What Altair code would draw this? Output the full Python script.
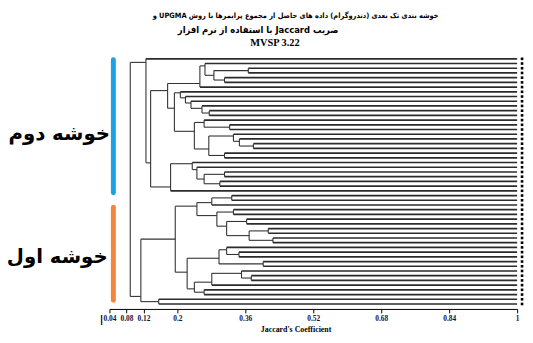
import altair as alt
import pandas as pd

# ---------------- data ----------------
n_leaves = 53
# merges: ids < 53 are leaves (top-to-bottom order), id 53+k is merge k
merge_left = [2, 4, 53, 1, 56, 11, 10, 9, 8, 7,
              14, 13, 18, 17, 16, 20, 67, 64, 62, 57,
              24, 26, 73, 23, 22, 77, 72, 0,
              29, 81, 32, 34, 36, 38, 85, 84, 83, 82,
              41, 40, 43, 92, 46, 45, 96, 49, 97, 94, 90, 51, 101, 80]
merge_right = [3, 5, 54, 55, 6, 12, 58, 59, 60, 61,
               15, 63, 19, 65, 66, 21, 68, 69, 70, 71,
               25, 27, 74, 75, 76, 28, 78, 79,
               30, 31, 33, 35, 37, 39, 86, 87, 88, 89,
               42, 91, 44, 93, 47, 95, 48, 50, 98, 99, 100, 52, 102, 103]
merge_height = [0.367, 0.311, 0.286, 0.265, 0.253, 0.275, 0.258, 0.232, 0.219, 0.207,
                0.323, 0.263, 0.379, 0.346, 0.332, 0.311, 0.274, 0.240, 0.193, 0.177,
                0.311, 0.300, 0.263, 0.246, 0.235, 0.184, 0.137, 0.126,
                0.328, 0.281, 0.332, 0.363, 0.414, 0.425, 0.369, 0.316, 0.293, 0.246,
                0.345, 0.316, 0.402, 0.298, 0.374, 0.351, 0.281, 0.263, 0.240, 0.223,
                0.195, 0.156, 0.114, 0.089]

tick_values = [0.04, 0.08, 0.12, 0.2, 0.36, 0.52, 0.68, 0.84, 1.0]

cluster_names = ["خوشه دوم", "خوشه اول"]
cluster_start = [0.2, 31.5]
cluster_end = [28.4, 51.2]
cluster_colors = ["#1ba1e6", "#f5853a"]

title_line1 = "خوشه بندی تک بعدی (دندروگرام) داده های حاصل از مجموع پرایمرها با روش UPGMA و"
title_line2 = "ضریب    Jaccard با استفاده از نرم افزار"
title_line3 = "MVSP 3.22"

RLE, PDF = "\u202b", "\u202c"
def rtl(s):
    # lay the Persian line out right-to-left whatever the element's base direction
    return RLE + s + PDF

# ---------------- dendrogram layout ----------------
ypos = {i: float(i) for i in range(n_leaves)}
count = {i: 1 for i in range(n_leaves)}
hgt = {i: 1.0 for i in range(n_leaves)}
parent_h = {}
segs = []
for k, (l, r, h) in enumerate(zip(merge_left, merge_right, merge_height)):
    nid = n_leaves + k
    nl, nr = count[l], count[r]
    ypos[nid] = (nr * ypos[l] + nl * ypos[r]) / (nl + nr)
    count[nid] = nl + nr
    hgt[nid] = h
    parent_h[l] = h
    parent_h[r] = h
    segs.append(dict(x=h, x2=h, y=ypos[l], y2=ypos[r], kind="node"))
for c, ph in parent_h.items():
    segs.append(dict(x=ph, x2=hgt[c], y=ypos[c], y2=ypos[c],
                     kind="leaf" if c < n_leaves else "node"))
seg_df = pd.DataFrame(segs)
leaf_df = pd.DataFrame({"x": [1.0] * n_leaves, "y": [float(i) for i in range(n_leaves)]})
clu_df = pd.DataFrame({"name": cluster_names, "s": cluster_start, "e": cluster_end})

x_scale = alt.Scale(domain=[0.04, 1.0], nice=False, zero=False)
y_scale = alt.Scale(domain=[-0.418, 53.05], reverse=True, nice=False, zero=False)

x_axis = alt.Axis(values=tick_values, format=".2~f", grid=False, domainColor="black",
                  tickColor="black", tickSize=4, labelFont="Liberation Serif",
                  labelFontWeight="bold", labelFontSize=7.5, labelColor="#14143a",
                  labelPadding=2, labelOverlap=False, labelFlush=False,
                  title="Jaccard's Coefficient", titleFont="Liberation Serif",
                  titleFontSize=8, titleFontWeight="bold", titleX=189, titlePadding=3,
                  titleColor="black")

nodes = alt.Chart(seg_df).transform_filter("datum.kind == 'node'").mark_rule(
    color="#333333", strokeWidth=1.1).encode(
    x=alt.X("x:Q", scale=x_scale, axis=x_axis), x2="x2:Q",
    y=alt.Y("y:Q", scale=y_scale, axis=None), y2="y2:Q")

leaves = alt.Chart(seg_df).transform_filter("datum.kind == 'leaf'").mark_rule(
    color="#2b2b2b", strokeWidth=1.7).encode(
    x=alt.X("x:Q", scale=x_scale), x2="x2:Q",
    y=alt.Y("y:Q", scale=y_scale), y2="y2:Q")

squares = alt.Chart(leaf_df).mark_square(size=7, color="black", opacity=1, xOffset=5).encode(
    x=alt.X("x:Q", scale=x_scale), y=alt.Y("y:Q", scale=y_scale))

bars = alt.Chart(clu_df).mark_rule(strokeWidth=5, strokeCap="round").encode(
    x=alt.value(4), y=alt.Y("s:Q", scale=y_scale), y2="e:Q",
    color=alt.Color("name:N", scale=alt.Scale(domain=cluster_names, range=cluster_colors),
                    legend=None))

PERSIAN = "DejaVu Sans Condensed, DejaVu Sans"

def txt(s, x, y, size, font=PERSIAN, weight="bold", align="center", color="black"):
    return alt.Chart(pd.DataFrame({"t": [s]})).mark_text(
        font=font, fontWeight=weight, fontSize=size, align=align, baseline="middle",
        color=color).encode(text="t:N", x=alt.value(x), y=alt.value(y))

lab1 = txt(rtl(cluster_names[0]), -51, 78, 20, font="DejaVu Sans")
lab2 = txt(rtl(cluster_names[1]), -53, 203, 20, font="DejaVu Sans")
t1 = txt(rtl(title_line1), 189, -41, 7.5)
t2 = txt(rtl(title_line2), 151, -27, 9.5)
t3 = txt(title_line3, 168, -14, 10.5, font="Liberation Serif")
mark = txt("ا", -8, 268, 13, weight="normal", font="DejaVu Sans")

chart = alt.layer(nodes, leaves, squares, bars, lab1, lab2, t1, t2, t3, mark).properties(
    width=414, height=256,
    padding={"left": 103, "top": 47, "right": 8, "bottom": 32},
    autosize=alt.AutoSizeParams(type="none"),
    background="white",
).configure_view(stroke=None)

chart.save("out.html", embed_options={"renderer": "svg", "actions": False})
